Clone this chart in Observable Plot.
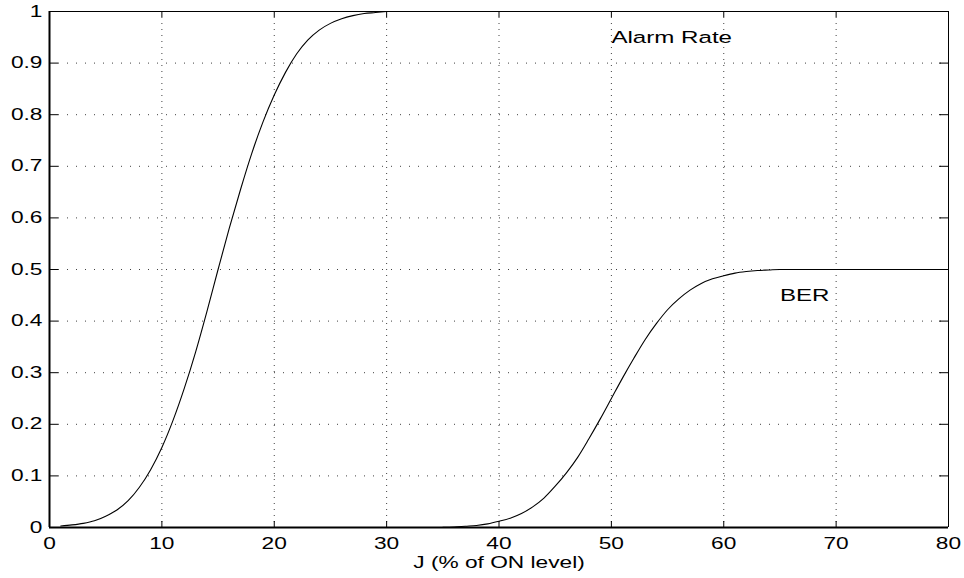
<!DOCTYPE html>
<html><head><meta charset="utf-8">
<script src="https://cdn.jsdelivr.net/npm/d3@7"></script>
<script src="https://cdn.jsdelivr.net/npm/@observablehq/plot@0.6"></script>
<style>
html,body{margin:0;padding:0;background:#fff;overflow:hidden;}
svg{display:block;}
</style>
</head><body><div id="chart"></div>
<script>
const xTicks = [0, 10, 20, 30, 40, 50, 60, 70, 80];
const xTickLabels = ["0", "10", "20", "30", "40", "50", "60", "70", "80"];
const yTicks = [0, 0.1, 0.2, 0.3, 0.4, 0.5, 0.6, 0.7, 0.8, 0.9, 1];
const yTickLabels = ["0", "0.1", "0.2", "0.3", "0.4", "0.5", "0.6", "0.7", "0.8", "0.9", "1"];
const xLabel = "J (% of ON level)";

const alarmJ = [1, 2, 3, 4, 5, 6, 7, 8, 9, 10, 11, 12, 13, 14, 15, 16, 17, 18, 19, 20,
  21, 22, 23, 24, 25, 26, 27, 28, 29, 30];
const alarmRate = [0.003, 0.005, 0.008, 0.013, 0.022, 0.034, 0.052, 0.078, 0.112, 0.155,
  0.208, 0.27, 0.34, 0.418, 0.50, 0.58, 0.655, 0.725, 0.786, 0.838,
  0.882, 0.918, 0.945, 0.964, 0.977, 0.986, 0.992, 0.996, 0.998, 1.0];

const berJ = [35, 36, 37, 38, 39, 40, 41, 42, 43, 44, 45, 46, 47, 48, 49, 50, 51, 52, 53, 54,
  55, 56, 57, 58, 59, 60, 61, 62, 63, 64, 65, 66, 67, 68, 69, 70, 71, 72, 73, 74, 75, 76, 77, 78, 79, 80];
const berValues = [0.0003, 0.001, 0.0025, 0.004, 0.007, 0.012, 0.018, 0.027, 0.040, 0.057,
  0.080, 0.106, 0.136, 0.172, 0.21, 0.25, 0.29, 0.328, 0.364, 0.395,
  0.422, 0.443, 0.46, 0.473, 0.482, 0.488, 0.493, 0.496, 0.498, 0.499,
  0.5, 0.5, 0.5, 0.5, 0.5, 0.5, 0.5, 0.5, 0.5, 0.5, 0.5, 0.5, 0.5, 0.5, 0.5, 0.5];

const annotationText = ["Alarm Rate", "BER"];
const annotationJ = [50, 65];
const annotationValue = [0.95, 0.45];

const alarmData = alarmJ.map((j, i) => ({j, v: alarmRate[i]}));
const berData = berJ.map((j, i) => ({j, v: berValues[i]}));
const notes = annotationText.map((t, i) => ({t, j: annotationJ[i], v: annotationValue[i]}));

const W = 964, H = 578;
const mL = 49, mR = 16, mT = 11, mB = 51;
const innerW = W - mL - mR, innerH = H - mT - mB;
const tickLenX = 6, tickLenY = 9;
const font = "'Liberation Sans', Arial, Helvetica, sans-serif";

const svg = Plot.plot({
  width: W, height: H,
  marginLeft: mL, marginRight: mR, marginTop: mT, marginBottom: mB,
  style: {fontFamily: font, fontSize: "16px", background: "#fff", color: "#000", overflow: "visible"},
  x: {domain: [0, 80]},
  y: {domain: [0, 1]},
  marks: [
    Plot.gridX(xTicks, {stroke: "#000", strokeOpacity: 0.75, strokeWidth: 1, strokeDasharray: "1,5"}),
    Plot.gridY(yTicks, {stroke: "#000", strokeOpacity: 0.75, strokeWidth: 1, strokeDasharray: "1,8"}),
    Plot.line(alarmData, {x: "j", y: "v", stroke: "#000", strokeWidth: 1.1, curve: "monotone-x"}),
    Plot.line(berData, {x: "j", y: "v", stroke: "#000", strokeWidth: 1.1, curve: "monotone-x"}),
    // inward ticks on all four sides
    Plot.ruleX(xTicks, {x: d => d, stroke: "#000", strokeWidth: 1, insetTop: innerH - tickLenX}),
    Plot.ruleX(xTicks, {x: d => d, stroke: "#000", strokeWidth: 1, insetBottom: innerH - tickLenX}),
    Plot.ruleY(yTicks, {y: d => d, stroke: "#000", strokeWidth: 1, insetRight: innerW - tickLenY}),
    Plot.ruleY(yTicks, {y: d => d, stroke: "#000", strokeWidth: 1, insetLeft: innerW - tickLenY}),
    // frame
    Plot.ruleX([80], {stroke: "#000", strokeWidth: 1}),
    Plot.ruleY([1], {stroke: "#000", strokeWidth: 1}),
    Plot.ruleX([0], {stroke: "#000", strokeWidth: 2}),
    Plot.ruleY([0], {stroke: "#000", strokeWidth: 2}),
    Plot.axisX(xTicks, {anchor: "bottom", tickSize: 0, tickPadding: 10, label: null, fontSize: 16,
      tickFormat: d => xTickLabels[xTicks.indexOf(d)]}),
    Plot.axisY(yTicks, {anchor: "left", tickSize: 0, tickPadding: 7, label: null, fontSize: 16,
      tickFormat: d => yTickLabels[yTicks.findIndex(t => Math.abs(t - d) < 1e-9)]}),
    Plot.text([xLabel], {frameAnchor: "bottom", dy: 35, text: d => d, fontSize: 16, lineAnchor: "middle", fill: "#000"}),
    Plot.text(notes, {x: "j", y: "v", text: "t", textAnchor: "start", lineAnchor: "middle", fontSize: 17, fill: "#000"})
  ]
});

const S = 1.42;
svg.querySelectorAll("text").forEach(t => {
  const tr = t.getAttribute("transform");
  if (tr) t.setAttribute("transform", tr + ` scale(${S},1)`);
  else {
    const x = +(t.getAttribute("x") || 0), y = +(t.getAttribute("y") || 0);
    t.removeAttribute("x"); t.removeAttribute("y");
    t.setAttribute("transform", `translate(${x},${y}) scale(${S},1)`);
  }
});

document.getElementById("chart").appendChild(svg);
</script>
</body></html>
